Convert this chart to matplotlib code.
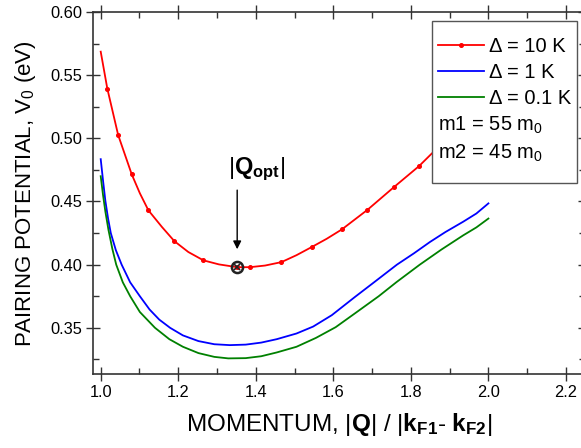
import matplotlib

matplotlib.use("Agg")
import matplotlib.pyplot as plt
from matplotlib.lines import Line2D
from matplotlib.ticker import MultipleLocator

plt.rcParams["font.family"] = ["Liberation Sans", "DejaVu Sans"]
plt.rcParams["mathtext.fontset"] = "custom"
plt.rcParams["mathtext.rm"] = "Liberation Sans"
plt.rcParams["mathtext.bf"] = "Liberation Sans:bold"
plt.rcParams["mathtext.it"] = "Liberation Sans:italic"

# Delta = 10 K (dots only on some points; the end of the curve sits under the legend)
q_10k = [1.0, 1.017, 1.045, 1.080, 1.101, 1.123, 1.158, 1.190, 1.226, 1.265, 1.305, 1.352,
         1.385, 1.424, 1.466, 1.505, 1.544, 1.583, 1.622, 1.688, 1.756, 1.821, 1.853, 1.89,
         1.95, 2.0]
v_10k = [0.5686, 0.5394, 0.5026, 0.4715, 0.4565, 0.443, 0.4298, 0.4186, 0.410, 0.4034, 0.4002,
         0.398, 0.398, 0.3993, 0.402, 0.4075, 0.4139, 0.4205, 0.4279, 0.4434, 0.4613, 0.478,
         0.4877, 0.498, 0.514, 0.530]
marks_10k = [1, 2, 3, 5, 7, 9, 11, 12, 14, 16, 18, 19, 20, 21, 23]

# Delta = 1 K
q_1k = [1.0, 1.006, 1.012, 1.019, 1.026, 1.039, 1.054, 1.076, 1.101, 1.126, 1.151, 1.179,
        1.212, 1.252, 1.293, 1.333, 1.374, 1.414, 1.454, 1.505, 1.548, 1.596, 1.656, 1.707,
        1.764, 1.808, 1.849, 1.889, 1.935, 1.969, 2.0]
v_1k = [0.4835, 0.4665, 0.4505, 0.4365, 0.4250, 0.4115, 0.4000, 0.3860, 0.3750, 0.3645, 0.3565,
        0.3500, 0.3440, 0.3395, 0.3370, 0.3363, 0.3367, 0.3383, 0.3410, 0.3455, 0.3510, 0.3600,
        0.3745, 0.3865, 0.4000, 0.4090, 0.4179, 0.4258, 0.4340, 0.4405, 0.4485]

# Delta = 0.1 K
q_01k = [1.0, 1.006, 1.012, 1.020, 1.030, 1.040, 1.057, 1.076, 1.101, 1.140, 1.177, 1.212,
         1.252, 1.293, 1.329, 1.374, 1.414, 1.454, 1.505, 1.555, 1.606, 1.656, 1.717, 1.763,
         1.823, 1.879, 1.935, 1.969, 2.0]
v_01k = [0.4700, 0.4550, 0.4420, 0.4275, 0.4125, 0.4000, 0.3860, 0.3750, 0.3625, 0.3500, 0.3410,
         0.3350, 0.3300, 0.3270, 0.3258, 0.3260, 0.3275, 0.3305, 0.3350, 0.3420, 0.3505, 0.3615,
         0.3750, 0.3862, 0.4000, 0.4120, 0.4232, 0.4295, 0.4365]

q_opt = 1.352
v_opt = 0.398

fig = plt.figure(figsize=(5.81, 4.48), dpi=100)
ax = fig.add_axes([0.16007, 0.1645, 0.8474, 0.8087])

ax.plot(q_10k, v_10k, color="red", lw=1.3, marker="o", ms=2.6, markevery=marks_10k,
        label="Δ = 10 K")
ax.plot(q_1k, v_1k, color="blue", lw=1.3, label="Δ = 1 K")
ax.plot(q_01k, v_01k, color="green", lw=1.3, label="Δ = 0.1 K")

# optimal momentum marker and arrow
ax.plot([q_opt], [v_opt], marker="o", ms=8, mfc="none", mec="#222222", mew=1.8, zorder=5)
ax.plot([q_opt], [v_opt], marker="x", ms=5, mec="#222222", mew=1.2, zorder=5)
ax.annotate("", xy=(q_opt, 0.4100), xytext=(q_opt, 0.4612),
            arrowprops=dict(arrowstyle="-|>", color="black", lw=1.0, mutation_scale=12))
ax.text(1.329, 0.4756, r"$|\mathbf{Q}_{\mathbf{opt}}|$", fontsize=17, ha="left", va="center")

ax.set_xlim(0.9801, 2.25)
ax.set_ylim(0.3132, 0.60)
ax.xaxis.set_major_locator(MultipleLocator(0.2))
ax.xaxis.set_minor_locator(MultipleLocator(0.1))
ax.yaxis.set_major_locator(MultipleLocator(0.05))
ax.yaxis.set_minor_locator(MultipleLocator(0.025))
ax.xaxis.set_major_formatter(lambda v, p: f"{v:.1f}")
ax.yaxis.set_major_formatter(lambda v, p: f"{v:.2f}")
ax.tick_params(which="major", direction="inout", length=10, width=1.0, labelsize=11.8,
               pad=2.5, top=True, right=True, color="#333333")
ax.tick_params(which="minor", direction="in", length=4, width=1.0, top=True, right=True,
               color="#333333")
for spine in ax.spines.values():
    spine.set_linewidth(1.2)
    spine.set_color("#333333")

ax.set_xlabel(r"MOMENTUM, $|\mathbf{Q}|$ / $|\mathbf{k}_{\mathbf{F1}}$- $\mathbf{k}_{\mathbf{F2}}|$",
              fontsize=17.5, labelpad=8)
ax.set_ylabel(r"PAIRING POTENTIAL, V$_0$ (eV)", fontsize=16, labelpad=9)

handles, labels = ax.get_legend_handles_labels()
blank = Line2D([], [], linestyle="none")
handles = [blank] + handles + [blank, blank, blank]
labels = [" "] + labels + [r"m1 = 55 m$_0$", r"m2 = 45 m$_0$", " "]
leg = ax.legend(handles, labels, loc="upper left", bbox_to_anchor=(0.7430, 0.9538),
                bbox_transform=fig.transFigure, borderaxespad=0, fancybox=False,
                framealpha=1, edgecolor="#555555", fontsize=14.5, handlelength=2.3,
                handletextpad=0.25, labelspacing=0.33, borderpad=0.3, numpoints=1)
leg.get_frame().set_linewidth(1.0)

# rows without a line start their text at the handle edge; first/last rows are thin spacers
rows = leg._legend_handle_box.get_children()[0].get_children()
texts = leg.get_texts()
for i in (0, 4, 5, 6):
    rows[i].sep = 0
    rows[i].get_children()[0].width = 0
for i, size in ((0, 3), (6, 5)):
    box = rows[i].get_children()[0]
    box.height = 0
    box.ydescent = 0
    texts[i].set_fontsize(size)

fig.savefig("out.png", dpi=100)
